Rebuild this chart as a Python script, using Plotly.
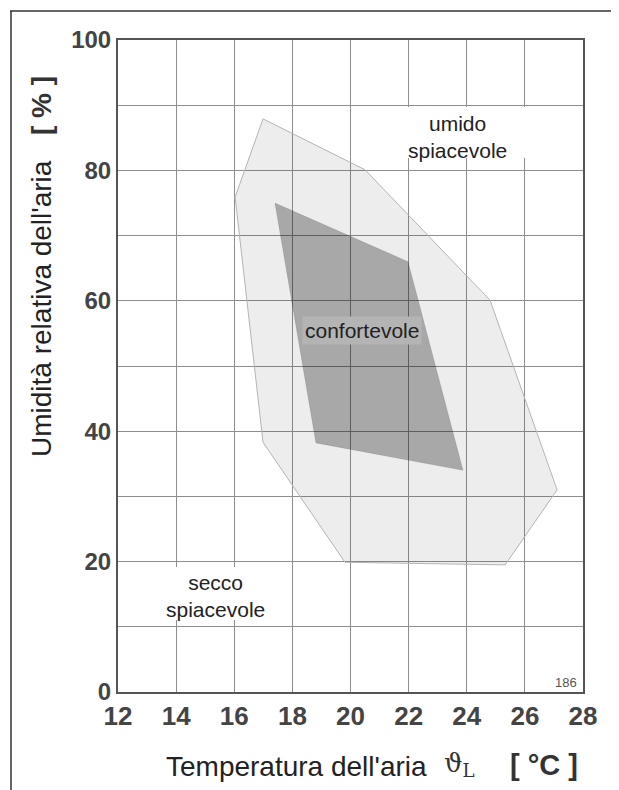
import plotly.graph_objects as go

# ---- data ----
outer_temp = [16.99, 16.03, 16.99, 19.81, 25.32, 27.11, 24.80, 20.50, 16.99]
outer_hum = [87.9, 75.9, 38.3, 19.9, 19.5, 31.0, 60.1, 80.1, 87.9]
inner_temp = [17.40, 21.98, 23.87, 18.81, 17.40]
inner_hum = [75.0, 66.0, 34.0, 38.2, 75.0]

x_ticks = [12, 14, 16, 18, 20, 22, 24, 26, 28]
x_ticktext = ["12", "14", "16", "18", "20", "22", "24", "26", "28"]
y_ticks = [0, 10, 20, 30, 40, 50, 60, 70, 80, 90, 100]
y_ticktext = ["0", " ", "20", " ", "40", " ", "60", " ", "80", " ", "100"]

OFF = 8  # default body margin of the html page
W, H = 619 - OFF, 790 - OFF
PL, PR, PT, PB = 118, 583, 40, 692  # plot area in page pixels
L, T = PL - OFF, PT - OFF
R, B = W - (PR - OFF), H - (PB - OFF)
pw, ph = PR - PL, PB - PT


def px(x):
    return (x - PL) / pw


def py(y):
    return (PB - y) / ph


fig = go.Figure()
fig.add_trace(go.Scatter(
    x=outer_temp, y=outer_hum, mode="lines", fill="toself",
    fillcolor="rgba(0,0,0,0.07)", line=dict(color="#b4b4b4", width=1),
    hoverinfo="skip", showlegend=False))
fig.add_trace(go.Scatter(
    x=inner_temp, y=inner_hum, mode="lines", fill="toself",
    fillcolor="rgba(0,0,0,0.29)", line=dict(color="rgba(0,0,0,0.2)", width=0.5),
    hoverinfo="skip", showlegend=False))

fam = "Liberation Sans, Arial, sans-serif"
fig.update_xaxes(range=[12, 28], tickvals=x_ticks, ticktext=x_ticktext,
                 showgrid=True, gridcolor="#8e8e8e", gridwidth=1,
                 showline=True, linecolor="#555555", linewidth=2, mirror=True,
                 ticks="", ticklabelstandoff=0,
                 tickfont=dict(family=fam, size=26, color="#444444", weight="bold"),
                 zeroline=False)
fig.update_yaxes(range=[0, 100], tickvals=y_ticks, ticktext=y_ticktext,
                 showgrid=True, gridcolor="#8e8e8e", gridwidth=1,
                 showline=True, linecolor="#555555", linewidth=2, mirror=True,
                 ticks="", ticklabelstandoff=0,
                 tickfont=dict(family=fam, size=24, color="#444444", weight="bold"),
                 zeroline=False)

shapes = [
    # outer page frame (top and left lines)
    dict(type="line", xref="paper", yref="paper", x0=px(10), x1=px(619), y0=py(11), y1=py(11),
         line=dict(color="#333333", width=1.5), layer="above"),
    dict(type="line", xref="paper", yref="paper", x0=px(11), x1=px(11), y0=py(11), y1=py(790),
         line=dict(color="#333333", width=1.5), layer="above"),
    # white label boxes hiding the grid
    dict(type="rect", xref="paper", yref="paper", x0=px(397), x1=px(573), y0=py(158), y1=py(107),
         fillcolor="white", line=dict(width=0), layer="above"),
    dict(type="rect", xref="paper", yref="paper", x0=px(122), x1=px(290), y0=py(620), y1=py(567),
         fillcolor="white", line=dict(width=0), layer="above"),
]
fig.update_layout(shapes=shapes)

lab = dict(family=fam, color="#222222")
ann = [
    dict(x=px(457), y=py(137), text="umido<br>spiacevole", font=dict(size=21, **lab)),
    dict(x=px(215), y=py(596), text="secco<br>spiacevole", font=dict(size=21, **lab)),
    dict(x=px(362), y=py(330), text="confortevole", font=dict(size=21, **lab),
         bgcolor="#b4b4b4", borderpad=2),
    dict(x=px(566), y=py(682), text="186",
         font=dict(size=13, family=fam, color="#555555")),
    dict(x=px(42), y=py(309), text="Umidità relativa dell'aria", textangle=-90,
         font=dict(size=28, **lab)),
    dict(x=px(42), y=py(106), text="<b>[ % ]</b>", textangle=-90,
         font=dict(size=28, family=fam, color="#333333")),
    dict(x=px(296), y=py(767), text="Temperatura dell'aria", font=dict(size=28, **lab)),
    dict(x=px(459), y=py(765), text="ϑ<sub>L</sub>",
         font=dict(size=26, family="DejaVu Serif, Liberation Serif, serif", color="#333333")),
    dict(x=px(544), y=py(765), text="<b>[ °C ]</b>",
         font=dict(size=29, family=fam, color="#333333")),
]
for a in ann:
    a.update(xref="paper", yref="paper", showarrow=False, xanchor="center", yanchor="middle")
fig.update_layout(annotations=ann)

fig.update_layout(width=W, height=H, margin=dict(l=L, r=R, t=T, b=B),
                  paper_bgcolor="white", plot_bgcolor="white", showlegend=False)

fig.write_html("out.html")
